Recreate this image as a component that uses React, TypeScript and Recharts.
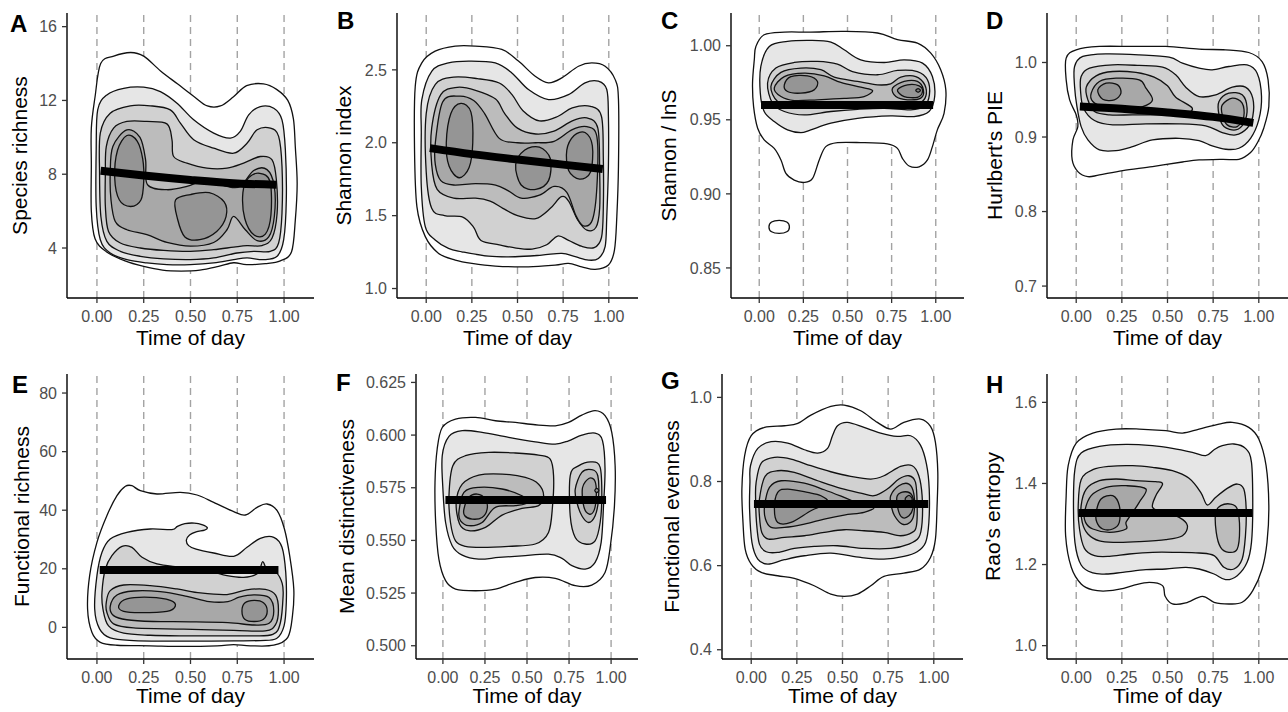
import React from 'react';
import { ComposedChart, Scatter, XAxis, YAxis, ReferenceLine } from 'recharts';

type Pt = [number, number];
type Poly = Pt[];

// ---------- shared axis values ----------
const xTicks = [0, 0.25, 0.5, 0.75, 1];
const xTickLabels = ['0.00', '0.25', '0.50', '0.75', '1.00'];
const xDomain: [number, number] = [-0.16, 1.16];
const xTitle = 'Time of day';
const panelLetters = ['A', 'B', 'C', 'D', 'E', 'F', 'G', 'H'];
const yTitles = ['Species richness', 'Shannon index', 'Shannon / lnS', "Hurlbert's PIE", 'Functional richness', 'Mean distinctiveness', 'Functional evenness', "Rao's entropy"];
const levelFills = ['#ffffff', '#e6e6e6', '#d1d1d1', '#bcbcbc', '#a8a8a8', '#959595', '#838383'];

// ---------- Panel A : Species richness ----------
const aYTicks = [4, 8, 12, 16];
const aYTickLabels = ['4', '8', '12', '16'];
const aTrend: Poly = [[0.02, 8.19], [0.25, 7.93], [0.5, 7.69], [0.75, 7.5], [0.96, 7.43]];
const aL1: Poly = [[0.02, 14.0], [0.09, 14.4], [0.18, 14.6], [0.25, 14.4], [0.34, 13.6], [0.43, 12.9], [0.52, 12.2], [0.59, 11.7], [0.66, 11.7], [0.73, 12.2], [0.8, 12.8], [0.89, 12.9], [0.96, 12.6], [1.02, 12.0], [1.05, 11.0], [1.06, 9.5], [1.07, 7.5], [1.06, 5.5], [1.04, 3.8], [0.98, 3.3], [0.9, 3.15], [0.8, 3.1], [0.73, 3.2], [0.65, 3.0], [0.55, 2.8], [0.45, 2.75], [0.35, 2.8], [0.25, 3.0], [0.15, 3.3], [0.05, 3.8], [-0.01, 4.5], [-0.03, 6.0], [-0.03, 8.5], [-0.03, 10.5], [-0.01, 12.2]];
const aL2: Poly = [[0.004, 11.49], [0.053, 12.3], [0.143, 12.66], [0.25, 12.72], [0.339, 12.48], [0.428, 11.85], [0.517, 10.95], [0.624, 10.23], [0.713, 9.96], [0.766, 10.32], [0.811, 11.22], [0.873, 11.67], [0.945, 11.58], [0.989, 10.95], [1.007, 9.32], [1.012, 6.62], [0.998, 4.45], [0.963, 3.55], [0.891, 3.37], [0.802, 3.46], [0.731, 3.37], [0.624, 3.19], [0.5, 3.1], [0.374, 3.1], [0.267, 3.19], [0.16, 3.37], [0.071, 3.73], [0.018, 4.45], [-0.004, 6.26], [-0.004, 9.32]];
const aL3: Poly = [[0.018, 10.23], [0.071, 11.31], [0.178, 11.71], [0.285, 11.71], [0.392, 11.49], [0.446, 10.77], [0.517, 9.87], [0.624, 9.41], [0.731, 9.14], [0.802, 9.68], [0.856, 10.41], [0.927, 10.5], [0.971, 10.05], [0.989, 8.42], [0.989, 5.9], [0.971, 4.27], [0.927, 3.82], [0.838, 3.82], [0.749, 3.73], [0.624, 3.46], [0.5, 3.37], [0.357, 3.41], [0.232, 3.55], [0.125, 3.82], [0.053, 4.36], [0.021, 5.71], [0.014, 8.06]];
const aL4: Poly = [[0.045, 8.06], [0.05, 9.5], [0.089, 10.5], [0.16, 10.86], [0.267, 10.86], [0.374, 10.73], [0.401, 9.87], [0.41, 8.96], [0.481, 8.6], [0.588, 8.33], [0.695, 8.33], [0.784, 8.6], [0.873, 8.96], [0.936, 8.78], [0.959, 7.7], [0.963, 5.9], [0.936, 4.54], [0.882, 4.13], [0.802, 4.13], [0.731, 4.05], [0.624, 3.91], [0.5, 3.82], [0.357, 3.87], [0.232, 4.0], [0.125, 4.27], [0.062, 4.9], [0.045, 6.26]];
const aL5: Poly = [[0.071, 8.06], [0.085, 9.5], [0.16, 10.4], [0.23, 10.0], [0.26, 8.78], [0.27, 7.43], [0.374, 7.16], [0.481, 7.34], [0.588, 7.7], [0.695, 7.34], [0.766, 7.34], [0.838, 8.2], [0.909, 8.25], [0.948, 7.34], [0.948, 5.71], [0.918, 4.6], [0.856, 4.4], [0.793, 4.99], [0.731, 5.71], [0.695, 4.99], [0.624, 4.3], [0.5, 4.1], [0.374, 4.3], [0.267, 4.72], [0.16, 4.99], [0.098, 5.44], [0.075, 6.62]];
const aL6a: Poly = [[0.095, 7.8], [0.11, 9.3], [0.16, 10.1], [0.215, 9.8], [0.245, 8.8], [0.25, 7.6], [0.235, 6.6], [0.18, 6.25], [0.12, 6.6]];
const aL6b: Poly = [[0.42, 6.6], [0.5, 6.9], [0.6, 7.0], [0.68, 6.5], [0.69, 5.7], [0.64, 4.9], [0.55, 4.45], [0.47, 4.6], [0.43, 5.6]];
const aL6c: Poly = [[0.78, 7.0], [0.81, 7.8], [0.87, 8.05], [0.925, 7.6], [0.93, 5.8], [0.9, 4.75], [0.84, 4.7], [0.79, 5.6]];

// ---------- Panel B : Shannon index ----------
const bYTicks = [1.0, 1.5, 2.0, 2.5];
const bYTickLabels = ['1.0', '1.5', '2.0', '2.5'];
const bTrend: Poly = [[0.02, 1.963], [0.25, 1.922], [0.5, 1.885], [0.75, 1.85], [0.967, 1.82]];
const bL1: Poly = [[-0.06, 2.388], [-0.024, 2.548], [0.049, 2.628], [0.159, 2.663], [0.268, 2.663], [0.414, 2.64], [0.505, 2.56], [0.597, 2.456], [0.67, 2.411], [0.743, 2.445], [0.834, 2.525], [0.907, 2.548], [0.98, 2.525], [1.035, 2.433], [1.053, 2.296], [1.053, 1.837], [1.044, 1.493], [1.031, 1.264], [0.998, 1.161], [0.925, 1.131], [0.852, 1.149], [0.779, 1.172], [0.706, 1.161], [0.56, 1.149], [0.378, 1.154], [0.25, 1.172], [0.159, 1.195], [0.068, 1.241], [-0.005, 1.356], [-0.051, 1.562], [-0.064, 1.952]];
const bL2: Poly = [[-0.024, 2.296], [0.031, 2.491], [0.122, 2.548], [0.232, 2.56], [0.378, 2.548], [0.469, 2.479], [0.56, 2.365], [0.67, 2.296], [0.779, 2.33], [0.87, 2.411], [0.943, 2.422], [0.989, 2.365], [0.998, 2.181], [0.998, 1.837], [0.989, 1.493], [0.98, 1.287], [0.943, 1.206], [0.889, 1.195], [0.816, 1.218], [0.743, 1.241], [0.633, 1.229], [0.487, 1.218], [0.341, 1.222], [0.195, 1.252], [0.122, 1.275], [0.049, 1.333], [-0.005, 1.424], [-0.027, 1.7], [-0.027, 2.067]];
const bL3: Poly = [[0.0, 2.2], [0.05, 2.4], [0.15, 2.45], [0.28, 2.44], [0.4, 2.41], [0.47, 2.33], [0.53, 2.22], [0.62, 2.15], [0.72, 2.18], [0.8, 2.24], [0.9, 2.25], [0.96, 2.18], [0.97, 1.9], [0.97, 1.55], [0.96, 1.35], [0.92, 1.28], [0.85, 1.29], [0.78, 1.33], [0.72, 1.36], [0.66, 1.3], [0.58, 1.27], [0.48, 1.28], [0.4, 1.3], [0.3, 1.33], [0.26, 1.42], [0.2, 1.49], [0.1, 1.5], [0.03, 1.55], [0.0, 1.8]];
const bL4: Poly = [[0.03, 2.1], [0.08, 2.33], [0.17, 2.38], [0.27, 2.36], [0.38, 2.3], [0.43, 2.2], [0.5, 2.1], [0.6, 2.06], [0.7, 2.08], [0.8, 2.15], [0.88, 2.17], [0.94, 2.1], [0.95, 1.8], [0.95, 1.55], [0.93, 1.42], [0.88, 1.4], [0.83, 1.47], [0.78, 1.6], [0.74, 1.63], [0.68, 1.55], [0.6, 1.48], [0.5, 1.5], [0.42, 1.55], [0.35, 1.6], [0.27, 1.62], [0.15, 1.62], [0.06, 1.68], [0.03, 1.85]];
const bL5: Poly = [[0.05, 2.0], [0.09, 2.28], [0.18, 2.32], [0.26, 2.29], [0.32, 2.2], [0.4, 2.03], [0.5, 2.0], [0.6, 2.0], [0.7, 2.01], [0.8, 2.09], [0.88, 2.11], [0.935, 2.04], [0.935, 1.7], [0.91, 1.47], [0.86, 1.43], [0.82, 1.5], [0.77, 1.66], [0.7, 1.7], [0.62, 1.64], [0.52, 1.62], [0.45, 1.67], [0.38, 1.71], [0.27, 1.72], [0.15, 1.71], [0.08, 1.74], [0.05, 1.85]];
const bL6a: Poly = [[0.11, 2.0], [0.135, 2.2], [0.19, 2.27], [0.245, 2.21], [0.255, 2.0], [0.235, 1.83], [0.18, 1.76], [0.125, 1.84]];
const bL6b: Poly = [[0.49, 1.85], [0.54, 1.95], [0.62, 1.97], [0.68, 1.89], [0.67, 1.74], [0.6, 1.68], [0.52, 1.71]];
const bL6c: Poly = [[0.77, 1.95], [0.81, 2.05], [0.87, 2.07], [0.91, 1.98], [0.9, 1.8], [0.84, 1.75], [0.78, 1.81]];

// ---------- Panel C : Shannon / lnS ----------
const cYTicks = [0.85, 0.9, 0.95, 1.0];
const cYTickLabels = ['0.85', '0.90', '0.95', '1.00'];
const cTrend: Poly = [[0.01, 0.96], [0.985, 0.96]];
const cL1: Poly = [[-0.019, 0.9995], [0.028, 1.0074], [0.142, 1.0092], [0.292, 1.0092], [0.481, 1.0097], [0.67, 1.0086], [0.783, 1.0041], [0.896, 1.0018], [0.972, 0.995], [1.028, 0.9838], [1.057, 0.9702], [1.047, 0.9544], [1.009, 0.9432], [0.981, 0.9319], [0.953, 0.9229], [0.906, 0.9183], [0.849, 0.9188], [0.811, 0.924], [0.783, 0.9307], [0.726, 0.9337], [0.575, 0.9346], [0.443, 0.9346], [0.377, 0.9319], [0.34, 0.9229], [0.302, 0.9104], [0.255, 0.9077], [0.198, 0.9093], [0.151, 0.9138], [0.123, 0.9229], [0.085, 0.9307], [0.028, 0.9364], [-0.009, 0.9443], [-0.032, 0.9589], [-0.038, 0.9747], [-0.028, 0.9905]];
const cL1b: Poly = [[0.055, 0.8777], [0.07, 0.881], [0.113, 0.8821], [0.156, 0.881], [0.171, 0.8777], [0.156, 0.8744], [0.113, 0.8733], [0.07, 0.8744]];
const cL2: Poly = [[0.009, 0.986], [0.057, 0.9995], [0.16, 1.0029], [0.292, 1.0036], [0.406, 1.0025], [0.481, 0.9973], [0.575, 0.9905], [0.708, 0.9887], [0.821, 0.9905], [0.925, 0.9883], [0.981, 0.9792], [0.994, 0.9657], [0.962, 0.9556], [0.877, 0.9522], [0.745, 0.9526], [0.557, 0.951], [0.406, 0.9477], [0.292, 0.9432], [0.236, 0.9413], [0.16, 0.9432], [0.085, 0.9488], [0.028, 0.9556], [0.006, 0.968]];
const cL3: Poly = [[0.047, 0.9747], [0.094, 0.9849], [0.198, 0.9887], [0.33, 0.9894], [0.443, 0.9876], [0.528, 0.9826], [0.67, 0.9804], [0.783, 0.9833], [0.896, 0.9826], [0.953, 0.977], [0.964, 0.9668], [0.934, 0.9589], [0.858, 0.9567], [0.708, 0.9578], [0.557, 0.9571], [0.406, 0.9556], [0.255, 0.9533], [0.142, 0.9556], [0.075, 0.9612]];
const cL4: Poly = [[0.066, 0.9725], [0.123, 0.982], [0.236, 0.9849], [0.349, 0.9838], [0.425, 0.9788], [0.557, 0.9759], [0.67, 0.9736], [0.745, 0.9743], [0.802, 0.9788], [0.887, 0.9792], [0.938, 0.9736], [0.943, 0.9657], [0.906, 0.9612], [0.821, 0.9607], [0.67, 0.9612], [0.481, 0.9607], [0.33, 0.9594], [0.198, 0.9585], [0.104, 0.9623]];
const cL5a: Poly = [[0.085, 0.9714], [0.142, 0.9792], [0.255, 0.9815], [0.368, 0.9797], [0.462, 0.9752], [0.575, 0.972], [0.642, 0.9698], [0.594, 0.9657], [0.481, 0.9644], [0.33, 0.9635], [0.198, 0.963], [0.123, 0.9657]];
const cL5b: Poly = [[0.755, 0.9714], [0.821, 0.9759], [0.896, 0.9759], [0.93, 0.9702], [0.915, 0.9646], [0.84, 0.9635], [0.774, 0.9657]];
const cL6a: Poly = [[0.142, 0.9736], [0.179, 0.9792], [0.274, 0.9797], [0.33, 0.9759], [0.311, 0.9702], [0.236, 0.968], [0.16, 0.9691]];
const cL6b: Poly = [[0.783, 0.9702], [0.84, 0.9736], [0.906, 0.9729], [0.925, 0.9691], [0.896, 0.9652], [0.821, 0.9657]];
const cL7: Poly = [[0.887, 0.9698], [0.9, 0.971], [0.913, 0.9698], [0.9, 0.9686]];

// ---------- Panel D : Hurlbert's PIE ----------
const dYTicks = [0.7, 0.8, 0.9, 1.0];
const dYTickLabels = ['0.7', '0.8', '0.9', '1.0'];
const dTrend: Poly = [[0.02, 0.941], [0.25, 0.938], [0.5, 0.933], [0.75, 0.927], [0.97, 0.919]];
const dL1: Poly = [[-0.055, 1.0058], [0, 1.017], [0.127, 1.0215], [0.309, 1.0215], [0.491, 1.0215], [0.673, 1.0179], [0.818, 1.017], [0.945, 1.0134], [1.018, 1.0013], [1.051, 0.9767], [1.055, 0.9409], [1.027, 0.9118], [0.996, 0.8939], [0.955, 0.8791], [0.891, 0.8701], [0.8, 0.8701], [0.673, 0.8692], [0.582, 0.8665], [0.418, 0.8603], [0.255, 0.8549], [0.127, 0.8491], [0.064, 0.8468], [0.009, 0.8536], [-0.022, 0.8692], [-0.018, 0.8961], [0.009, 0.914], [0, 0.9297], [-0.036, 0.9498], [-0.055, 0.9767]];
const dL2: Poly = [[-0.009, 0.9946], [0.036, 1.0081], [0.164, 1.0116], [0.345, 1.0103], [0.509, 1.0072], [0.582, 0.9991], [0.673, 0.9924], [0.745, 0.9901], [0.836, 0.9946], [0.936, 0.9969], [0.991, 0.9857], [1.015, 0.9543], [1.0, 0.923], [0.955, 0.8983], [0.891, 0.8849], [0.818, 0.8836], [0.745, 0.888], [0.673, 0.8952], [0.564, 0.8983], [0.418, 0.8961], [0.309, 0.8871], [0.218, 0.8818], [0.127, 0.8827], [0.064, 0.8961], [0.027, 0.914], [0.004, 0.9409], [-0.009, 0.9678]];
const dL3: Poly = [[0.027, 0.9812], [0.073, 0.9924], [0.2, 0.9969], [0.345, 0.996], [0.473, 0.9937], [0.545, 0.9834], [0.6, 0.9669], [0.673, 0.9543], [0.764, 0.9566], [0.855, 0.9669], [0.927, 0.9669], [0.967, 0.9521], [0.967, 0.9275], [0.936, 0.9118], [0.873, 0.9028], [0.8, 0.906], [0.709, 0.9149], [0.564, 0.9176], [0.382, 0.9176], [0.2, 0.9163], [0.1, 0.9221], [0.04, 0.9386], [0.024, 0.961]];
const dL4a: Poly = [[0.055, 0.9669], [0.109, 0.9821], [0.2, 0.9879], [0.327, 0.9866], [0.427, 0.9803], [0.5, 0.9687], [0.545, 0.9534], [0.636, 0.9386], [0.582, 0.9297], [0.455, 0.9297], [0.309, 0.9297], [0.182, 0.9297], [0.1, 0.9342], [0.064, 0.9498]];
const dL4b: Poly = [[0.782, 0.9476], [0.836, 0.9588], [0.909, 0.9566], [0.936, 0.9386], [0.918, 0.9185], [0.873, 0.9095], [0.809, 0.914], [0.782, 0.9297]];
const dL5a: Poly = [[0.082, 0.9588], [0.127, 0.9745], [0.218, 0.9789], [0.345, 0.9767], [0.382, 0.9655], [0.418, 0.9498], [0.364, 0.9409], [0.255, 0.9386], [0.145, 0.9409], [0.091, 0.9476]];
const dL5b: Poly = [[0.8, 0.9431], [0.855, 0.9521], [0.909, 0.9454], [0.918, 0.9275], [0.882, 0.914], [0.827, 0.9163], [0.8, 0.9297]];
const dL6: Poly = [[0.118, 0.9633], [0.164, 0.9722], [0.227, 0.97], [0.245, 0.9588], [0.209, 0.9498], [0.145, 0.9507]];

// ---------- Panel E : Functional richness ----------
const eYTicks = [0, 20, 40, 60, 80];
const eYTickLabels = ['0', '20', '40', '60', '80'];
const eTrend: Poly = [[0.015, 19.6], [0.97, 19.6]];
const eL1: Poly = [[-0.05, 6.28], [-0.039, 17.66], [0, 29.03], [0.053, 38.13], [0.107, 44.96], [0.152, 48.15], [0.187, 48.37], [0.232, 46.67], [0.321, 45.53], [0.446, 46.1], [0.535, 45.19], [0.624, 42.69], [0.731, 39.5], [0.793, 38.36], [0.856, 40.98], [0.909, 42.12], [0.963, 39.84], [1.002, 33.58], [1.03, 24.48], [1.052, 13.11], [1.045, 4.01], [1.02, -3.39], [0.945, -6.1], [0.82, -6.3], [0.731, -5.9], [0.642, -6.3], [0.463, -6.5], [0.285, -6.3], [0.107, -6.1], [0.018, -5.1], [-0.027, -1.69]];
const eL2: Poly = [[-0.012, 6.28], [0, 17.66], [0.027, 25.62], [0.071, 30.17], [0.16, 32.45], [0.285, 33.58], [0.401, 33.36], [0.43, 34.5], [0.47, 35.4], [0.52, 35.6], [0.565, 35.0], [0.59, 34.0], [0.575, 33.2], [0.53, 32.6], [0.495, 31.5], [0.478, 29.8], [0.49, 27.9], [0.53, 26.7], [0.624, 25.39], [0.731, 24.25], [0.802, 27.33], [0.873, 30.4], [0.945, 30.74], [0.989, 27.33], [1.009, 18.79], [1.012, 8.56], [1.0, 0.5], [0.96, -3.8], [0.873, -4.5], [0.731, -4.6], [0.553, -4.7], [0.374, -4.7], [0.196, -4.5], [0.071, -3.6], [0.014, -0.5]];
const eL3: Poly = [[0.027, 11.97], [0.045, 19.93], [0.08, 24.48], [0.134, 27.67], [0.187, 27.33], [0.241, 23.92], [0.321, 21.64], [0.446, 20.5], [0.588, 19.36], [0.695, 17.66], [0.784, 17.09], [0.86, 18.5], [0.885, 22.4], [0.91, 19.6], [0.96, 18.6], [0.99, 15.0], [0.995, 10.83], [0.98, 1.5], [0.94, -2.4], [0.82, -2.9], [0.642, -2.9], [0.463, -2.9], [0.285, -2.7], [0.143, -2.0], [0.062, 0.5], [0.032, 6.28]];
const eL4: Poly = [[0.05, 8.56], [0.071, 12.54], [0.143, 14.47], [0.285, 14.24], [0.428, 13.11], [0.553, 11.74], [0.695, 11.2], [0.8, 12.8], [0.9, 13.0], [0.955, 11.0], [0.97, 6.0], [0.955, 1.0], [0.9, -1.2], [0.731, -1.0], [0.463, -0.6], [0.196, -0.2], [0.089, 1.2], [0.053, 5.14]];
const eL5: Poly = [[0.071, 7.19], [0.107, 11.06], [0.196, 12.42], [0.339, 12.2], [0.481, 10.6], [0.6, 8.8], [0.7, 8.8], [0.76, 10.3], [0.84, 11.1], [0.92, 10.2], [0.945, 5.6], [0.92, 1.4], [0.84, 0.8], [0.7, 1.6], [0.5, 1.9], [0.3, 2.0], [0.16, 2.6], [0.089, 4.01]];
const eL6a: Poly = [[0.116, 7.3], [0.16, 9.74], [0.285, 10.26], [0.392, 9.25], [0.419, 7.3], [0.374, 5.46], [0.232, 5.01], [0.143, 5.46]];
const eL6b: Poly = [[0.775, 5.6], [0.79, 8.3], [0.84, 9.2], [0.89, 8.4], [0.91, 5.6], [0.89, 2.8], [0.84, 2.0], [0.79, 2.8]];

// ---------- Panel F : Mean distinctiveness ----------
const fYTicks = [0.5, 0.525, 0.55, 0.575, 0.6, 0.625];
const fYTickLabels = ['0.500', '0.525', '0.550', '0.575', '0.600', '0.625'];
const fTrend: Poly = [[0.015, 0.5692], [0.97, 0.5692]];
const fL1: Poly = [[-0.034, 0.5934], [-0.004, 0.6036], [0.075, 0.6076], [0.194, 0.6084], [0.312, 0.6068], [0.431, 0.606], [0.549, 0.6049], [0.668, 0.6044], [0.747, 0.606], [0.826, 0.6095], [0.905, 0.6116], [0.964, 0.6092], [1.004, 0.6013], [1.024, 0.5854], [1.02, 0.5665], [0.996, 0.5475], [0.964, 0.5348], [0.885, 0.5288], [0.787, 0.5285], [0.668, 0.532], [0.549, 0.5324], [0.431, 0.5301], [0.312, 0.5269], [0.194, 0.5261], [0.075, 0.5269], [0.016, 0.5309], [-0.024, 0.5411], [-0.043, 0.5585], [-0.047, 0.5775]];
const fL2: Poly = [[-0.004, 0.5902], [0.036, 0.5994], [0.115, 0.6021], [0.233, 0.6013], [0.391, 0.5989], [0.549, 0.5968], [0.668, 0.5957], [0.747, 0.5973], [0.826, 0.6], [0.905, 0.6009], [0.949, 0.5973], [0.964, 0.5839], [0.955, 0.5665], [0.941, 0.5491], [0.905, 0.5396], [0.846, 0.5364], [0.767, 0.538], [0.708, 0.5415], [0.628, 0.5435], [0.47, 0.5427], [0.332, 0.5419], [0.213, 0.5411], [0.115, 0.543], [0.055, 0.5475], [0.016, 0.5585], [0, 0.5744]];
const fL3a: Poly = [[0.036, 0.5712], [0.059, 0.5854], [0.134, 0.5902], [0.273, 0.5918], [0.431, 0.5915], [0.569, 0.5905], [0.638, 0.5886], [0.658, 0.5807], [0.652, 0.5665], [0.628, 0.5538], [0.549, 0.5483], [0.391, 0.5472], [0.233, 0.5467], [0.134, 0.5472], [0.075, 0.5498], [0.045, 0.5585]];
const fL3b: Poly = [[0.757, 0.5807], [0.806, 0.5854], [0.885, 0.5873], [0.935, 0.5847], [0.945, 0.5712], [0.935, 0.5585], [0.905, 0.5498], [0.846, 0.5483], [0.787, 0.5514], [0.757, 0.5617]];
const fL4a: Poly = [[0.079, 0.568], [0.115, 0.5767], [0.213, 0.581], [0.352, 0.5815], [0.49, 0.5799], [0.569, 0.5767], [0.599, 0.5712], [0.569, 0.5665], [0.47, 0.5652], [0.352, 0.562], [0.253, 0.5562], [0.154, 0.5546], [0.099, 0.5578]];
const fL4b: Poly = [[0.787, 0.5744], [0.826, 0.5823], [0.885, 0.5836], [0.921, 0.5807], [0.925, 0.5696], [0.905, 0.5617], [0.866, 0.5585], [0.826, 0.5617], [0.797, 0.568]];
const fL5a: Poly = [[0.095, 0.5633], [0.125, 0.5728], [0.213, 0.5752], [0.352, 0.5744], [0.47, 0.5712], [0.51, 0.568], [0.431, 0.5665], [0.312, 0.5657], [0.233, 0.5585], [0.154, 0.557], [0.105, 0.5593]];
const fL5b: Poly = [[0.83, 0.575], [0.87, 0.5795], [0.905, 0.578], [0.912, 0.5712], [0.9, 0.5645], [0.87, 0.5625], [0.838, 0.566]];
const fL6a: Poly = [[0.125, 0.5649], [0.154, 0.5704], [0.204, 0.572], [0.253, 0.5696], [0.263, 0.5649], [0.233, 0.5609], [0.174, 0.5601], [0.13, 0.5617]];
const fL6b: Poly = [[0.903, 0.5737], [0.915, 0.5747], [0.927, 0.5737], [0.915, 0.5727]];

// ---------- Panel G : Functional evenness ----------
const gYTicks = [0.4, 0.6, 0.8, 1.0];
const gYTickLabels = ['0.4', '0.6', '0.8', '1.0'];
const gTrend: Poly = [[0.015, 0.7465], [0.97, 0.7465]];
const gL1: Poly = [[-0.036, 0.8613], [0, 0.9088], [0.073, 0.9287], [0.182, 0.9326], [0.255, 0.9382], [0.327, 0.958], [0.436, 0.9786], [0.509, 0.9818], [0.6, 0.9683], [0.691, 0.9405], [0.764, 0.9247], [0.836, 0.9405], [0.927, 0.9485], [0.982, 0.931], [1.009, 0.893], [1.022, 0.8216], [1.018, 0.7424], [1.009, 0.6631], [0.982, 0.6195], [0.927, 0.5918], [0.836, 0.5822], [0.727, 0.5743], [0.655, 0.5521], [0.582, 0.5323], [0.509, 0.5267], [0.436, 0.5323], [0.345, 0.5521], [0.236, 0.5696], [0.145, 0.5759], [0.055, 0.5838], [0, 0.6036], [-0.033, 0.6393], [-0.045, 0.7027], [-0.051, 0.782]];
const gL2: Poly = [[-0.004, 0.8375], [0.036, 0.8787], [0.109, 0.8946], [0.2, 0.8914], [0.291, 0.8755], [0.364, 0.8676], [0.418, 0.8787], [0.445, 0.9088], [0.473, 0.9326], [0.527, 0.9405], [0.618, 0.9287], [0.709, 0.9152], [0.8, 0.9073], [0.873, 0.9088], [0.927, 0.8866], [0.96, 0.8415], [0.975, 0.782], [0.973, 0.7027], [0.955, 0.6552], [0.909, 0.633], [0.836, 0.6219], [0.727, 0.6155], [0.6, 0.6195], [0.436, 0.6298], [0.291, 0.6235], [0.182, 0.614], [0.091, 0.6036], [0.036, 0.6155], [0.004, 0.6552], [-0.009, 0.7344], [-0.007, 0.7979]];
const gL3: Poly = [[0.027, 0.7979], [0.055, 0.8438], [0.127, 0.8573], [0.218, 0.8533], [0.327, 0.8375], [0.436, 0.8232], [0.545, 0.8121], [0.655, 0.8058], [0.727, 0.8137], [0.818, 0.8359], [0.882, 0.8375], [0.918, 0.8137], [0.936, 0.7662], [0.936, 0.7027], [0.918, 0.6671], [0.864, 0.6512], [0.764, 0.6409], [0.618, 0.6409], [0.473, 0.6473], [0.345, 0.6457], [0.236, 0.6409], [0.145, 0.6314], [0.082, 0.633], [0.045, 0.6512], [0.029, 0.7027], [0.024, 0.7582]];
const gL4: Poly = [[0.045, 0.7582], [0.076, 0.8121], [0.145, 0.8256], [0.236, 0.8216], [0.364, 0.8018], [0.491, 0.7836], [0.6, 0.7725], [0.673, 0.7662], [0.745, 0.782], [0.809, 0.8058], [0.864, 0.8137], [0.9, 0.7979], [0.909, 0.7424], [0.905, 0.6948], [0.882, 0.679], [0.818, 0.671], [0.727, 0.679], [0.618, 0.6829], [0.509, 0.6853], [0.4, 0.679], [0.291, 0.671], [0.182, 0.6671], [0.095, 0.6631], [0.058, 0.679], [0.045, 0.7186]];
const gL5a: Poly = [[0.073, 0.7408], [0.1, 0.786], [0.164, 0.8018], [0.291, 0.7963], [0.4, 0.7804], [0.509, 0.7622], [0.6, 0.7463], [0.673, 0.7384], [0.618, 0.7265], [0.509, 0.7202], [0.4, 0.7107], [0.291, 0.6988], [0.182, 0.6908], [0.109, 0.6908], [0.078, 0.7107]];
const gL5b: Poly = [[0.764, 0.7662], [0.809, 0.7899], [0.864, 0.7939], [0.891, 0.7701], [0.891, 0.7226], [0.869, 0.7027], [0.827, 0.6988], [0.785, 0.7186], [0.767, 0.7424]];
const gL6a: Poly = [[0.127, 0.7344], [0.145, 0.7741], [0.2, 0.782], [0.309, 0.7741], [0.382, 0.7662], [0.418, 0.7503], [0.327, 0.7305], [0.218, 0.7027], [0.145, 0.7027]];
const gL6b: Poly = [[0.8, 0.7662], [0.845, 0.7757], [0.882, 0.7662], [0.887, 0.7384], [0.864, 0.7186], [0.827, 0.7146], [0.804, 0.7345]];
const gL7: Poly = [[0.843, 0.758], [0.864, 0.767], [0.882, 0.758], [0.864, 0.749]];

// ---------- Panel H : Rao's entropy ----------
const hYTicks = [1.0, 1.2, 1.4, 1.6];
const hYTickLabels = ['1.0', '1.2', '1.4', '1.6'];
const hTrend: Poly = [[0.012, 1.327], [0.965, 1.327]];
const hL1: Poly = [[-0.058, 1.2712], [-0.055, 1.3699], [-0.044, 1.4438], [0, 1.4997], [0.091, 1.5244], [0.218, 1.5342], [0.345, 1.5342], [0.491, 1.5301], [0.582, 1.5244], [0.673, 1.5342], [0.782, 1.5466], [0.855, 1.5507], [0.945, 1.5384], [1.0, 1.5096], [1.04, 1.4438], [1.055, 1.3452], [1.045, 1.2548], [1.018, 1.189], [0.967, 1.1356], [0.909, 1.1069], [0.836, 1.1027], [0.755, 1.1069], [0.691, 1.1217], [0.6, 1.1052], [0.527, 1.1027], [0.487, 1.1217], [0.473, 1.148], [0.4, 1.1562], [0.309, 1.148], [0.245, 1.1397], [0.164, 1.1348], [0.091, 1.1373], [0.027, 1.1521], [-0.027, 1.1932]];
const hL2: Poly = [[-0.015, 1.3534], [-0.007, 1.4356], [0.027, 1.4751], [0.127, 1.4915], [0.273, 1.4964], [0.418, 1.4932], [0.527, 1.4866], [0.636, 1.4767], [0.709, 1.4685], [0.755, 1.4833], [0.8, 1.4932], [0.864, 1.4973], [0.927, 1.4866], [0.96, 1.4521], [0.967, 1.3452], [0.96, 1.2548], [0.936, 1.2055], [0.882, 1.1726], [0.818, 1.1628], [0.755, 1.1767], [0.673, 1.189], [0.6, 1.1932], [0.491, 1.189], [0.382, 1.1874], [0.255, 1.1808], [0.164, 1.1767], [0.091, 1.1792], [0.027, 1.1989], [-0.007, 1.2548]];
const hL3: Poly = [[0.011, 1.3452], [0.027, 1.4093], [0.091, 1.434], [0.182, 1.4422], [0.309, 1.4438], [0.418, 1.4397], [0.527, 1.4315], [0.618, 1.4126], [0.682, 1.3781], [0.718, 1.3469], [0.764, 1.3658], [0.827, 1.3879], [0.882, 1.3986], [0.918, 1.3863], [0.931, 1.337], [0.927, 1.2712], [0.909, 1.2137], [0.864, 1.189], [0.809, 1.1932], [0.755, 1.2219], [0.673, 1.2285], [0.545, 1.2301], [0.418, 1.2301], [0.291, 1.226], [0.182, 1.2203], [0.1, 1.2219], [0.045, 1.24], [0.018, 1.2877]];
const hL4a: Poly = [[0.027, 1.3452], [0.055, 1.3863], [0.127, 1.4068], [0.218, 1.411], [0.327, 1.4068], [0.436, 1.4044], [0.473, 1.3986], [0.436, 1.3699], [0.418, 1.3411], [0.473, 1.3288], [0.564, 1.3164], [0.609, 1.2959], [0.582, 1.2712], [0.491, 1.2614], [0.345, 1.2564], [0.218, 1.2548], [0.127, 1.2581], [0.064, 1.2753], [0.033, 1.3041]];
const hL4b: Poly = [[0.764, 1.3288], [0.791, 1.3452], [0.845, 1.3493], [0.882, 1.337], [0.895, 1.2877], [0.882, 1.2384], [0.836, 1.2301], [0.791, 1.2425], [0.767, 1.2795]];
const hL5: Poly = [[0.045, 1.3288], [0.082, 1.3699], [0.164, 1.3904], [0.273, 1.3945], [0.382, 1.3863], [0.345, 1.3534], [0.309, 1.3288], [0.273, 1.3041], [0.273, 1.2877], [0.182, 1.2795], [0.091, 1.2877], [0.051, 1.3041]];
const hL6: Poly = [[0.109, 1.3288], [0.136, 1.3617], [0.2, 1.3699], [0.236, 1.3452], [0.236, 1.3041], [0.2, 1.2877], [0.145, 1.2877], [0.113, 1.3041]];

// ---------- panel table (layout + references to data) ----------
type PanelCfg = {
  idx: number;
  boxLeft: number; boxTop: number;
  plotLeft: number; plotRight: number; plotTop: number; plotBottom: number;
  yDomain: [number, number];
  yTicks: number[]; yTickLabels: string[];
  trend: Poly;
  levels: Poly[][];
  letterX: number; letterY: number;
  yTitleX: number; yTitleY: number;
  xTitleOffset: number;
};

const row1 = { boxTop: 0, plotTop: 13, plotBottom: 298, xTitleOffset: 11, yTitleY: 155.5 };
const row2 = { boxTop: 356, plotTop: 374, plotBottom: 659, xTitleOffset: 9, yTitleY: 516.5 };

const panels: PanelCfg[] = [
  { idx: 0, ...row1, boxLeft: 0, plotLeft: 67, plotRight: 314, yDomain: [1.29, 16.74], yTicks: aYTicks, yTickLabels: aYTickLabels, trend: aTrend, levels: [[aL1], [aL2], [aL3], [aL4], [aL5], [aL6a, aL6b, aL6c]], letterX: 10, letterY: 32, yTitleX: 20 },
  { idx: 1, ...row1, boxLeft: 322, plotLeft: 397, plotRight: 638, yDomain: [0.935, 2.89], yTicks: bYTicks, yTickLabels: bYTickLabels, trend: bTrend, levels: [[bL1], [bL2], [bL3], [bL4], [bL5], [bL6a, bL6b, bL6c]], letterX: 337, letterY: 29, yTitleX: 344 },
  { idx: 2, ...row1, boxLeft: 644, plotLeft: 731, plotRight: 964, yDomain: [0.8297, 1.0221], yTicks: cYTicks, yTickLabels: cYTickLabels, trend: cTrend, levels: [[cL1, cL1b], [cL2], [cL3], [cL4], [cL5a, cL5b], [cL6a, cL6b], [cL7]], letterX: 661, letterY: 29, yTitleX: 669 },
  { idx: 3, ...row1, boxLeft: 966, plotLeft: 1047, plotRight: 1288, yDomain: [0.684, 1.0664], yTicks: dYTicks, yTickLabels: dYTickLabels, trend: dTrend, levels: [[dL1], [dL2], [dL3], [dL4a, dL4b], [dL5a, dL5b], [dL6]], letterX: 986, letterY: 29, yTitleX: 995 },
  { idx: 4, ...row2, boxLeft: 0, plotLeft: 67, plotRight: 314, yDomain: [-10.8, 86.5], yTicks: eYTicks, yTickLabels: eYTickLabels, trend: eTrend, levels: [[eL1], [eL2], [eL3], [eL4], [eL5], [eL6a, eL6b]], letterX: 12, letterY: 393, yTitleX: 22 },
  { idx: 5, ...row2, boxLeft: 322, plotLeft: 416, plotRight: 638, yDomain: [0.4937, 0.629], yTicks: fYTicks, yTickLabels: fYTickLabels, trend: fTrend, levels: [[fL1], [fL2], [fL3a, fL3b], [fL4a, fL4b], [fL5a, fL5b], [fL6a, fL6b]], letterX: 336, letterY: 391, yTitleX: 347 },
  { idx: 6, ...row2, boxLeft: 644, plotLeft: 722, plotRight: 963, yDomain: [0.378, 1.0556], yTicks: gYTicks, yTickLabels: gYTickLabels, trend: gTrend, levels: [[gL1], [gL2], [gL3], [gL4], [gL5a, gL5b], [gL6a, gL6b], [gL7]], letterX: 661, letterY: 389, yTitleX: 672 },
  { idx: 7, ...row2, boxLeft: 966, plotLeft: 1047, plotRight: 1288, yDomain: [0.967, 1.67], yTicks: hYTicks, yTickLabels: hYTickLabels, trend: hTrend, levels: [[hL1], [hL2], [hL3], [hL4a, hL4b], [hL5], [hL6]], letterX: 986, letterY: 393, yTitleX: 993 },
];

const toPts = (poly: Poly) => poly.map(([x, y]) => ({ x, y }));
const labelFor = (ticks: number[], labels: string[]) => (v: number) => {
  const i = ticks.findIndex((t) => Math.abs(t - v) < 1e-9);
  return i >= 0 ? labels[i] : String(v);
};

// Closed Catmull-Rom curve (passes through every point the library projected)
const closedSmooth = (context: any) => {
  let pts: [number, number][] = [];
  return {
    areaStart() {},
    areaEnd() {},
    lineStart() {
      pts = [];
    },
    point(x: number, y: number) {
      pts.push([+x, +y]);
    },
    lineEnd() {
      const n = pts.length;
      if (!n) return;
      context.moveTo(pts[0][0], pts[0][1]);
      for (let i = 0; i < n; i++) {
        const p0 = pts[(i - 1 + n) % n];
        const p1 = pts[i];
        const p2 = pts[(i + 1) % n];
        const p3 = pts[(i + 2) % n];
        context.bezierCurveTo(
          p1[0] + (p2[0] - p0[0]) / 6,
          p1[1] + (p2[1] - p0[1]) / 6,
          p2[0] - (p3[0] - p1[0]) / 6,
          p2[1] - (p3[1] - p1[1]) / 6,
          p2[0],
          p2[1]
        );
      }
      context.closePath();
    },
  };
};

const NoDot = () => <g />;
const FONT = '"Liberation Sans", Arial, Helvetica, sans-serif';
const BOX_H = 356;
const TICK_FONT = 16;

function Panel({ p }: { p: PanelCfg }) {
  const width = p.plotRight - p.boxLeft;
  return (
    <div style={{ position: 'absolute', left: p.boxLeft, top: p.boxTop, width, height: BOX_H }}>
      <ComposedChart width={width} height={BOX_H} margin={{ top: p.plotTop - p.boxTop, right: 0, bottom: 0, left: 0 }}>
        <XAxis
          type="number"
          dataKey="x"
          domain={xDomain}
          ticks={xTicks}
          interval={0}
          allowDataOverflow
          height={p.boxTop + BOX_H - p.plotBottom}
          tickFormatter={labelFor(xTicks, xTickLabels)}
          fontSize={TICK_FONT}
          tick={{ fill: '#4d4d4d', fontSize: TICK_FONT }}
          tickSize={5}
          tickMargin={8}
          axisLine={{ stroke: '#000', strokeWidth: 1.4 }}
          tickLine={{ stroke: '#333', strokeWidth: 1.3 }}
          label={{ value: xTitle, position: 'insideBottom', offset: p.xTitleOffset, fill: '#000', fontSize: 21 }}
        />
        <YAxis
          type="number"
          dataKey="y"
          domain={p.yDomain}
          ticks={p.yTicks}
          interval={0}
          allowDataOverflow
          width={p.plotLeft - p.boxLeft}
          tickFormatter={labelFor(p.yTicks, p.yTickLabels)}
          fontSize={TICK_FONT}
          tick={{ fill: '#4d4d4d', fontSize: TICK_FONT }}
          tickSize={5}
          tickMargin={5}
          axisLine={{ stroke: '#000', strokeWidth: 1.4 }}
          tickLine={{ stroke: '#333', strokeWidth: 1.3 }}
        />
        {p.levels.map((polys, li) =>
          polys.map((poly, pi) => (
            <Scatter
              key={`lv${li}-${pi}`}
              data={toPts(poly)}
              isAnimationActive={false}
              shape={NoDot}
              legendType="none"
              line={{ stroke: '#111', strokeWidth: 1.3, fill: levelFills[li] }}
              lineJointType={closedSmooth as any}
            />
          ))
        )}
        <Scatter
          key="trend"
          data={toPts(p.trend)}
          isAnimationActive={false}
          shape={NoDot}
          legendType="none"
          line={{ stroke: '#000', strokeWidth: 8, fill: 'none' }}
          lineJointType="monotoneX"
        />
        {xTicks.map((t) => (
          <ReferenceLine key={`v${t}`} x={t} stroke="#a3a3a3" strokeWidth={1.4} strokeDasharray="7 5" />
        ))}
      </ComposedChart>
    </div>
  );
}

export default function App() {
  return (
    <div style={{ position: 'absolute', left: 0, top: 0, width: 1288, height: 712, background: '#fff', fontFamily: FONT }}>
      {panels.map((p) => (
        <Panel key={p.idx} p={p} />
      ))}
      <svg width={1288} height={712} style={{ position: 'absolute', left: 0, top: 0, pointerEvents: 'none' }} fontFamily={FONT}>
        {panels.map((p) => (
          <g key={`t${p.idx}`}>
            <text x={p.letterX} y={p.letterY} fontSize={24} fontWeight="bold" fill="#000">
              {panelLetters[p.idx]}
            </text>
            <text
              transform={`translate(${p.yTitleX},${p.yTitleY}) rotate(-90)`}
              textAnchor="middle"
              dy="0.35em"
              fontSize={21}
              fill="#000"
            >
              {yTitles[p.idx]}
            </text>
          </g>
        ))}
      </svg>
    </div>
  );
}
